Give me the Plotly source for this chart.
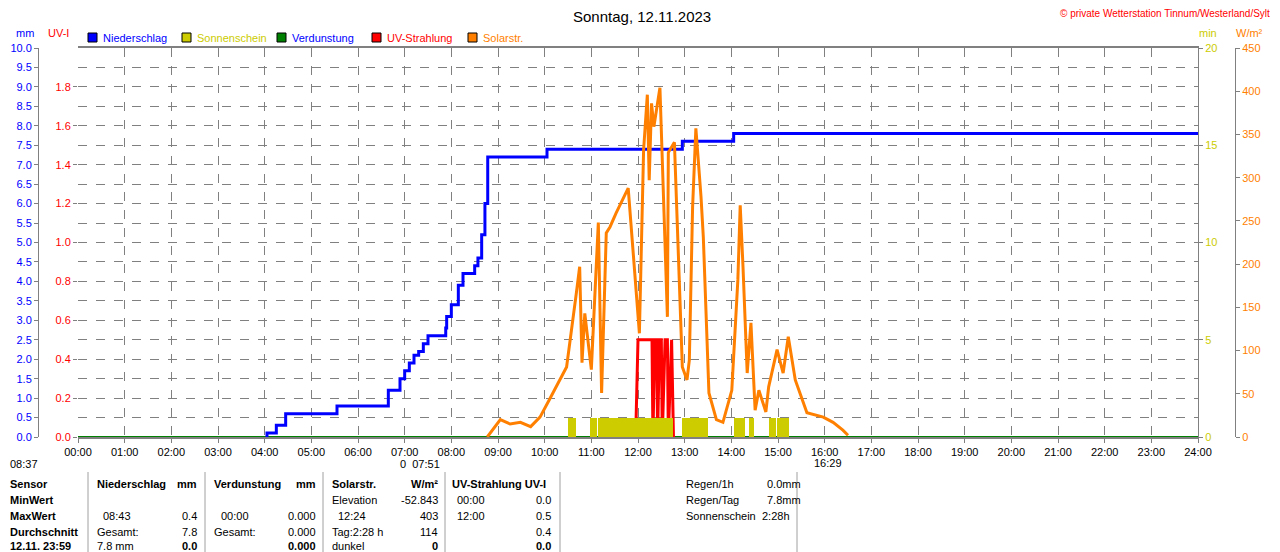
import plotly.graph_objects as go

# Zeitachse in Stunden (0..24)
rain_t = [4.03, 4.05, 4.2, 4.25, 4.45, 5.5, 5.55, 6.6, 6.65, 6.8, 6.9, 7.0, 7.1, 7.2, 7.3, 7.4, 7.5, 7.88,
          7.9, 8.0, 8.15, 8.25, 8.4, 8.5, 8.57, 8.65, 8.72, 8.78, 8.85, 10.0, 10.05, 12.9, 12.95, 14.0, 14.05, 24]
rain_mm = [0, 0.1, 0.1, 0.3, 0.6, 0.6, 0.8, 0.8, 1.2, 1.2, 1.5, 1.7, 1.9, 2.1, 2.2, 2.4, 2.6, 2.8,
           3.1, 3.4, 3.9, 4.2, 4.2, 4.4, 4.6, 5.2, 6.0, 7.2, 7.2, 7.2, 7.4, 7.4, 7.6, 7.6, 7.8, 7.8]

solar_t = [8.77, 9.05, 9.26, 9.48, 9.7, 9.9, 10.1, 10.47, 10.68, 10.75, 10.8, 10.86, 11.0, 11.15,
           11.22, 11.32, 11.4, 11.53, 11.79, 12.03, 12.12, 12.2, 12.24, 12.29, 12.34, 12.47, 12.63, 12.65,
           12.78, 12.95, 13.05, 13.1, 13.17, 13.24, 13.35, 13.4, 13.52, 13.68, 13.82, 14.01, 14.14, 14.19,
           14.25, 14.34, 14.42, 14.51, 14.59, 14.74, 14.8, 14.98, 15.11, 15.22, 15.37, 15.62, 15.97,
           16.18, 16.39, 16.5]
solar_w = [0, 20, 15, 17, 12, 23, 43, 81, 167, 197, 86, 143, 78, 248, 51, 236, 243, 259, 288, 120,
           332, 396, 297, 386, 359, 404, 139, 329, 341, 81, 66, 89, 266, 357, 278, 231, 51, 20, 17, 54,
           182, 268, 197, 74, 132, 31, 54, 29, 58, 101, 74, 116, 66, 28, 23, 17, 8, 2]

uv_t = [11.95, 12.0, 12.3, 12.32, 12.36, 12.4, 12.42, 12.46, 12.5, 12.52, 12.58, 12.63, 12.65, 12.72, 12.76]
uv_i = [0, 0.5, 0.5, 0.0, 0.5, 0.5, 0.0, 0.5, 0.5, 0.0, 0.5, 0.5, 0.0, 0.5, 0.0]

sun_start = [10.5, 10.98, 11.15, 12.95, 14.05, 14.37, 14.8, 14.98]
sun_end = [10.68, 11.12, 12.75, 13.5, 14.3, 14.48, 14.95, 15.23]
sun_min = [1, 1, 1, 1, 1, 1, 1, 1]

hour_labels = ["%02d:00" % h for h in range(25)]

# Seite hat 8px Rand -> Figur verschoben
OFF = 8
W, H = 1280, 552
L, R, T = 0, 0, 48 - OFF
B = H - (437 - OFF)
PW, PH = W - L - R, H - T - B


def px(x):
    return (x - OFF - L) / PW


def py(y):
    return (H - B - (y - OFF)) / PH


xd = [px(78), px(1198)]
grey = "#808080"
font = "Liberation Sans"

fig = go.Figure()
fig.add_trace(go.Bar(x=[(a + b) / 2 for a, b in zip(sun_start, sun_end)], y=sun_min,
                     width=[b - a for a, b in zip(sun_start, sun_end)], marker_color="#cccc00",
                     marker_line_width=0, yaxis="y4", name="Sonnenschein"))
fig.add_trace(go.Scatter(x=solar_t, y=solar_w, mode="lines", line=dict(color="#ff8000", width=3),
                         yaxis="y3", name="Solarstr."))
fig.add_trace(go.Scatter(x=uv_t, y=uv_i, mode="lines", line=dict(color="#ff0000", width=3),
                         yaxis="y2", name="UV-Strahlung"))
fig.add_trace(go.Scatter(x=[0, 24], y=[0, 0], mode="lines", line=dict(color="#008000", width=2),
                         name="Verdunstung"))
fig.add_trace(go.Scatter(x=rain_t, y=rain_mm, mode="lines", line=dict(color="#0000ff", width=3, shape="hv"),
                         name="Niederschlag"))

fig.update_layout(
    width=W, height=H, margin=dict(l=L, r=R, t=T, b=B),
    paper_bgcolor="white", plot_bgcolor="white", showlegend=False, bargap=0,
    font=dict(family=font, size=11, color="black"),
    xaxis=dict(domain=xd, range=[0, 24], tickvals=list(range(25)), ticktext=hour_labels, automargin=False,
               showgrid=True, gridcolor=grey, griddash="dash", gridwidth=1,
               showline=True, linecolor=grey, linewidth=2, mirror=True, ticks="outside",
               ticklen=4, tickcolor=grey, zeroline=False, tickfont=dict(size=11)),
    yaxis=dict(range=[0, 10], tickvals=[i * 0.5 for i in range(21)], automargin=False,
               ticktext=["%.1f" % (i * 0.5) for i in range(21)], anchor="free", position=px(38),
               tickfont=dict(color="#0000ff", size=11), showgrid=True, gridcolor=grey, griddash="dash",
               showline=True, linecolor=grey, ticks="outside", ticklen=4, tickcolor=grey, zeroline=False),
    yaxis2=dict(range=[0, 2], tickvals=[i * 0.2 for i in range(10)], automargin=False,
                ticktext=["%.1f" % (i * 0.2) for i in range(10)], overlaying="y", anchor="x", side="left",
                tickfont=dict(color="#ff0000", size=11), showgrid=False, zeroline=False,
                ticks="outside", ticklen=4, tickcolor=grey),
    yaxis3=dict(range=[0, 450], dtick=50, overlaying="y", anchor="free", side="right", position=px(1235),
                tickfont=dict(color="#ff8000", size=11), showgrid=False, zeroline=False, automargin=False,
                showline=True, linecolor=grey, ticks="outside", ticklen=4, tickcolor=grey),
    yaxis4=dict(range=[0, 20], tickvals=[0, 5, 10, 15, 20], overlaying="y", anchor="x", side="right",
                tickfont=dict(color="#cccc00", size=11), showgrid=False, zeroline=False, automargin=False,
                showline=True, linecolor=grey, ticks="outside", ticklen=4, tickcolor=grey),
)

ann = []


def text(x, y, s, color="black", size=11, anchor="left", bold=False):
    if bold:
        s = "<b>" + s + "</b>"
    ann.append(dict(x=px(x), y=py(y), xref="paper", yref="paper", text=s, showarrow=False,
                    xanchor=anchor, yanchor="middle", font=dict(color=color, size=size, family=font)))


text(642, 17, "Sonntag, 12.11.2023", size=15, anchor="center")
text(1272, 13, "© private Wetterstation Tinnum/Westerland/Sylt", color="#ff0000", size=10, anchor="right")
text(14, 33, "mm", color="#0000ff")
text(46, 33, "UV-I", color="#ff0000")
text(1197, 33, "min", color="#cccc00")
text(1234, 33, "W/m²", color="#ff8000")

shapes = []
legend = [(88, "Niederschlag", "#0000ff", "#0000ff"), (182, "Sonnenschein", "#cccc00", "#cccc00"),
          (277, "Verdunstung", "#008000", "#0000ff"), (372, "UV-Strahlung", "#ff0000", "#ff0000"),
          (468, "Solarstr.", "#ff8000", "#ff8000")]
for x0, name, c, tc in legend:
    shapes.append(dict(type="rect", xref="paper", yref="paper", x0=px(x0), x1=px(x0 + 9),
                       y0=py(42), y1=py(33), fillcolor=c, line=dict(color="black", width=1)))
    text(x0 + 13, 38, name, color=tc)

text(8, 464, "08:37")
text(398, 464, "0  07:51")
text(812, 463, "16:29")

# Tabelle unten
rows = [484, 500, 516, 532, 546]
for y, s in zip(rows, ["Sensor", "MinWert", "MaxWert", "Durchschnitt", "12.11. 23:59"]):
    text(8, y, s, bold=True)
text(95, rows[0], "Niederschlag", bold=True)
text(199, rows[0], "mm", bold=True, anchor="right")
text(212, rows[0], "Verdunstung", bold=True)
text(318, rows[0], "mm", bold=True, anchor="right")
text(330, rows[0], "Solarstr.", bold=True)
text(440, rows[0], "W/m²", bold=True, anchor="right")
text(450, rows[0], "UV-Strahlung UV-I", bold=True)
cells = [(101, 2, "08:43", "left"), (199, 2, "0.4", "right"), (95, 3, "Gesamt:", "left"),
         (199, 3, "7.8", "right"), (95, 4, "7.8 mm", "left"),
         (219, 2, "00:00", "left"), (318, 2, "0.000", "right"), (212, 3, "Gesamt:", "left"),
         (318, 3, "0.000", "right"),
         (330, 1, "Elevation", "left"), (440, 1, "-52.843", "right"), (336, 2, "12:24", "left"),
         (440, 2, "403", "right"), (330, 3, "Tag:2:28 h", "left"), (440, 3, "114", "right"),
         (330, 4, "dunkel", "left"),
         (455, 1, "00:00", "left"), (553, 1, "0.0", "right"), (455, 2, "12:00", "left"),
         (553, 2, "0.5", "right"), (553, 3, "0.4", "right"),
         (684, 0, "Regen/1h", "left"), (765, 0, "0.0mm", "left"), (684, 1, "Regen/Tag", "left"),
         (765, 1, "7.8mm", "left"), (684, 2, "Sonnenschein", "left"), (760, 2, "2:28h", "left")]
for x, r, s, a in cells:
    text(x, rows[r], s, anchor=a)
text(199, rows[4], "0.0", bold=True, anchor="right")
text(318, rows[4], "0.000", bold=True, anchor="right")
text(440, rows[4], "0", bold=True, anchor="right")
text(553, rows[4], "0.0", bold=True, anchor="right")

for x in [88, 205, 323, 445, 560, 797]:
    shapes.append(dict(type="line", xref="paper", yref="paper", x0=px(x), x1=px(x), y0=py(472), y1=py(552),
                       line=dict(color="#a0a0a0", width=1)))

fig.update_layout(annotations=ann, shapes=shapes)
fig.write_html("out.html")
